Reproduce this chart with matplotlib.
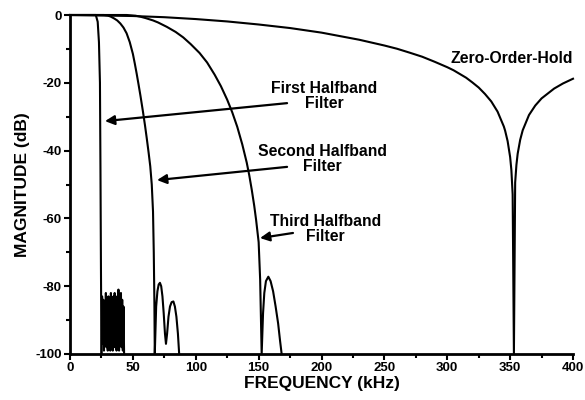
import matplotlib
matplotlib.use('Agg')
import matplotlib.pyplot as plt
from matplotlib.ticker import MultipleLocator

plt.rcParams['font.family'] = ['Liberation Sans', 'DejaVu Sans']
plt.rcParams['font.weight'] = 'bold'
plt.rcParams['axes.unicode_minus'] = False

# zero-order-hold response (kHz, dB)
zoh_f = [0, 50, 75, 100, 125, 150, 175, 200, 230, 250, 260, 270, 280, 290, 300, 305, 310,
         315, 320, 325, 330, 335, 340, 345, 346, 348, 350, 351, 352, 353,
         354, 355, 356, 358, 360, 365, 370, 375, 385, 392, 400]
zoh_db = [0, -0.3, -0.65, -1.2, -1.9, -2.8, -3.85, -5.2, -7.3, -9.0, -9.95, -11.1, -12.3, -13.8, -15.4, -16.3, -17.4,
          -18.5, -19.9, -21.4, -23.3, -25.5, -28.5, -32.9, -34.1, -37.2, -41.9, -45.8, -52.9, -100,
          -49.4, -44.2, -40.9, -36.8, -34, -29.5, -26.7, -24.6, -21.7, -20.2, -18.8]

# first halfband filter
hb1_f = [0, 20.5, 22, 23, 23.8, 24.2, 24.6, 25.0]
hb1_db = [0, 0, -2, -8, -20, -45, -75, -100]
# first filter stopband ripple
hb1_stop_f = [25.0, 25.5, 26.0, 26.5, 27.0, 27.5, 28.0, 28.5, 29.0, 29.5, 30.0, 30.5, 31.0, 31.5,
              32.0, 32.5, 33.0, 33.5, 34.0, 34.5, 35.0, 35.5, 36.0, 36.5, 37.0, 37.5, 38.0, 38.5,
              39.0, 39.5, 40.0, 40.5, 41.0, 41.5, 42.0, 42.5, 43.0]
hb1_stop_db = [-100, -83, -97, -84, -99, -86, -95, -82, -98, -85, -99, -83, -96, -84,
               -99, -82, -97, -85, -99, -83, -98, -82, -96, -85, -99, -83, -97, -81,
               -99, -84, -96, -82, -98, -84, -99, -86, -100]

# second halfband filter
hb2_f = [0, 27, 30, 32.5, 35, 37.5, 40, 42.5, 45, 47.5, 50, 51.5, 53, 54.5, 56, 58, 59.6, 61,
         62.5, 63.8, 65, 66, 66.6, 67.1, 67.4,
         68.5, 69.5, 70.5, 71.5, 72.5, 73.5, 74.5, 75.5, 76.3, 77.2, 78.3, 79.5, 80.8, 82.2,
         83.4, 84.6, 85.8, 86.8]
hb2_db = [0, 0, -0.15, -0.5, -1.0, -1.6, -2.5, -3.7, -5.4, -8, -11.5, -14.3, -17.3, -20.5, -23.8, -28.5, -32.5, -36.3,
          -40.6, -44.6, -50, -58, -70, -85, -100,
          -86, -81.5, -79.5, -79, -80, -83, -88, -94, -97, -94, -89, -86, -84.7, -84.5,
          -86, -89, -94, -100]

# third halfband filter
hb3_f = [0, 45, 52, 56, 60, 66, 70, 77, 84, 90, 96, 103, 109, 115, 120, 125, 129, 133, 137,
         140.5, 142.5, 144.5, 146.5, 148, 150, 151.2, 152.4,
         153.5, 154.5, 155.8, 157.7, 159.5, 161.5, 163.5, 165.5, 167, 168.3]
hb3_db = [0, 0, -0.2, -0.5, -0.9, -1.6, -2.2, -3.5, -5.0, -6.6, -8.6, -11.2, -14.0, -17.6, -21.0, -25.0, -28.7, -33.0, -38.2,
          -43.5, -47.2, -51.5, -56.3, -60.5, -67, -78, -100,
          -88, -82, -78.5, -77.2, -78.5, -81.5, -86, -91, -96, -100]

fig = plt.figure(figsize=(5.85, 4.0), dpi=100)
ax = fig.add_axes([0.1197, 0.115, 0.8598, 0.8475])

for f, db in [(zoh_f, zoh_db), (hb1_f, hb1_db), (hb1_stop_f, hb1_stop_db),
              (hb2_f, hb2_db), (hb3_f, hb3_db)]:
    ax.plot(f, db, color='black', linewidth=1.5, clip_on=False)

ax.set_xlim(0, 400)
ax.set_ylim(-100, 0)
ax.xaxis.set_major_locator(MultipleLocator(50))
ax.xaxis.set_minor_locator(MultipleLocator(25))
ax.yaxis.set_major_locator(MultipleLocator(20))
ax.yaxis.set_minor_locator(MultipleLocator(10))
ax.spines['top'].set_visible(False)
ax.spines['right'].set_visible(False)
ax.spines['left'].set_linewidth(2)
ax.spines['bottom'].set_linewidth(2)
ax.tick_params(which='major', direction='out', length=4, width=1.5, labelsize=9.5, pad=2)
ax.tick_params(which='minor', direction='out', length=3, width=1.5)

ax.set_xlabel('FREQUENCY (kHz)', fontsize=12.5, fontweight='bold', labelpad=1)
ax.set_ylabel('MAGNITUDE (dB)', fontsize=12.5, fontweight='bold', labelpad=4)

arrow = dict(arrowstyle='-|>', color='black', lw=1.6, mutation_scale=14, shrinkA=0, shrinkB=0)
ax.annotate('', xy=(27.8, -31.3), xytext=(172.6, -26.0), arrowprops=arrow)
ax.annotate('', xy=(69.2, -48.7), xytext=(172.6, -44.8), arrowprops=arrow)
ax.annotate('', xy=(151.1, -65.8), xytext=(177.3, -64.3), arrowprops=arrow)

txt = dict(fontsize=11.3, fontweight='bold', ha='center', va='center', linespacing=1.0)
ax.text(202, -24.0, 'First Halfband\nFilter', **txt)
ax.text(201, -42.6, 'Second Halfband\nFilter', **txt)
ax.text(203, -63.0, 'Third Halfband\nFilter', **txt)
ax.text(351, -12.7, 'Zero-Order-Hold', **txt)

fig.savefig('out.png', dpi=100)
